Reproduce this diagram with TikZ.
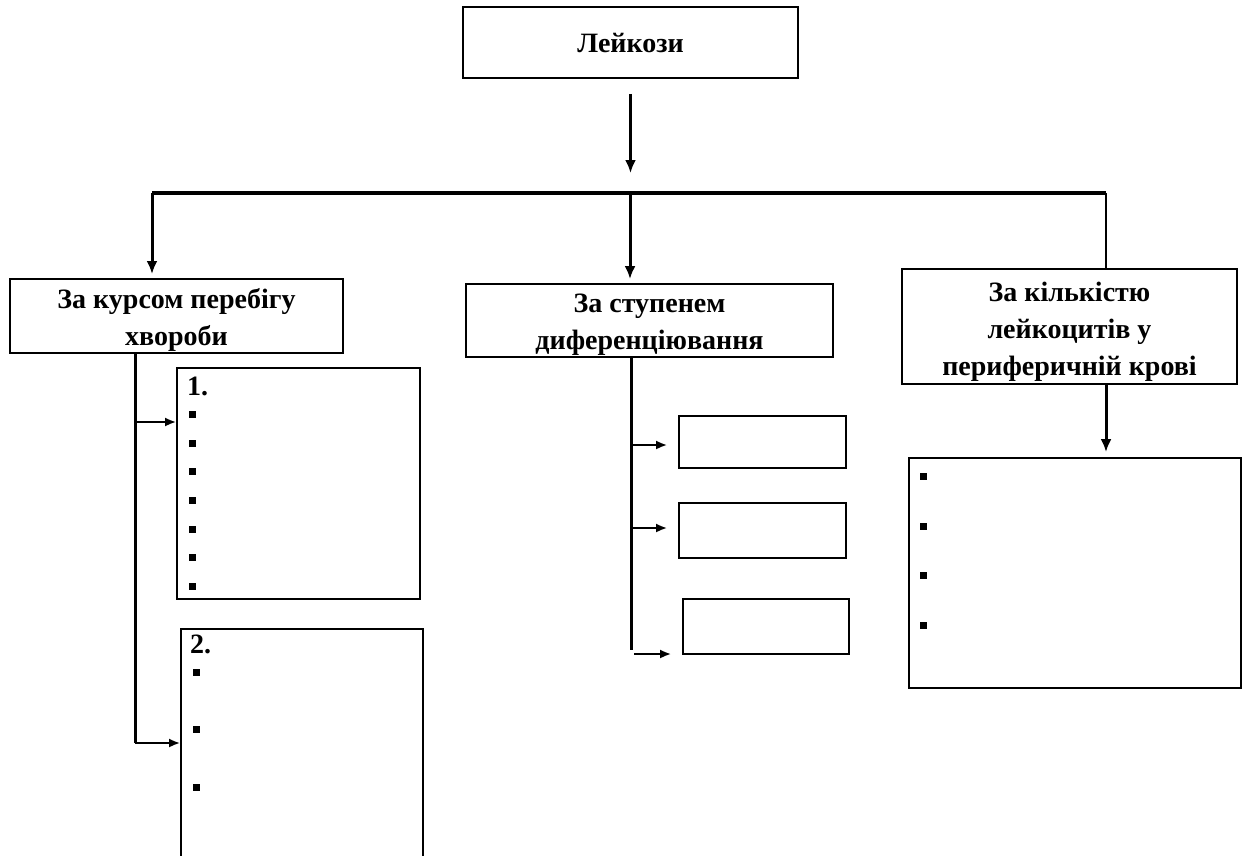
\documentclass[tikz,border=0pt]{standalone}
\usepackage{fontspec}
\setmainfont{Liberation Serif}
\usetikzlibrary{arrows.meta,positioning,calc}
\definecolor{ink}{HTML}{000000}
\newcommand{\boxstrut}{\rule{0pt}{27pt}}

\begin{document}
\begin{tikzpicture}[
  x=1pt, y=-1pt, color=ink,
  font=\fontsize{28}{37}\selectfont\bfseries,
  box/.style={draw, line width=1.8pt, align=center, inner sep=0pt},
  trunk/.style={line width=4pt},
  drop/.style={-{Latex[length=13pt,width=11pt]}, line width=3pt},
  feed/.style={-{Latex[length=11pt,width=9pt]}, line width=2pt},
  spine/.style={line width=3pt},
  sq/.style={fill, minimum size=7pt, inner sep=0pt},
  num/.style={anchor=base west, inner sep=0pt},
]
\useasboundingbox (0,0) rectangle (1248,855);

% root and groups
\node[box, minimum width=335pt, minimum height=71pt] (leuk) at (630.5,42.5) {Лейкози};
\node[box, minimum width=333pt, minimum height=74pt] (course) at (176.5,316) {\boxstrut За курсом перебігу\\хвороби};
\node[box, minimum width=367pt, minimum height=73pt] (diff) at (649.5,320.5) {\boxstrut За ступенем\\диференціювання};
\node[box, minimum width=335pt, minimum height=115pt] (count) at (1069.5,326.5) {\rule{0pt}{30pt}За кількістю\\лейкоцитів у\\периферичній крові};

% lists
\node[box, minimum width=243pt, minimum height=231pt] (list1) at (298.5,483.5) {};
\node[box, minimum width=242pt, minimum height=241pt] (list2) at (302,749.5) {};
\node[box, minimum width=167pt, minimum height=52pt] (d1) at (762.5,442) {};
\node[box, minimum width=167pt, minimum height=55pt] (d2) at (762.5,530.5) {};
\node[box, minimum width=166pt, minimum height=55pt] (d3) at (766,626.5) {};
\node[box, minimum width=332pt, minimum height=230pt] (cntlist) at (1075,573) {};

% numbers and bullets
\node[num] (n1) at (187,395) {1.};
\node[num] (n2) at (190,653) {2.};
\foreach \i in {0,...,6}
  \node[sq] (b1-\i) at (192,{414.3+28.7*\i}) {};
\foreach \i in {0,...,2}
  \node[sq] (b2-\i) at (196,{672.3+57.5*\i}) {};
\foreach \i in {0,...,3}
  \node[sq] (b3-\i) at (923,{476.7+49.5*\i}) {};

% bar
\coordinate (barL) at (152,193);
\coordinate (barM) at (630,193);
\coordinate (barR) at (1106,193);
\draw[trunk] (barL) -- (barR);
\draw[drop, shorten <=15pt, shorten >=20pt] (leuk.south) -- (leuk.south |- barM);
\draw[drop, shorten >=4pt] (barL) -- (barL |- course.north);
\draw[drop, shorten >=4pt] (barM) -- (barM |- diff.north);
\draw[line width=2.4pt] (barR) -- (barR |- count.north);
\draw[drop, shorten >=5pt] (barR |- count.south) -- (barR |- cntlist.north);

% left branch
\coordinate (spL) at (135,353);
\coordinate (f1) at (135,422);
\coordinate (f2) at (135,743);
\draw[spine] (spL) -- (f2);
\draw[feed] (f1) -- (f1 -| list1.west);
\draw[feed] (f2) -- (f2 -| list2.west);

% middle branch
\coordinate (spM) at (631,357);
\coordinate (g1) at (631,445);
\coordinate (g2) at (631,528);
\coordinate (g3) at (634,654);
\draw[spine] (spM) -- (631,650);
\draw[feed, shorten >=11pt] (g1) -- (g1 -| d1.west);
\draw[feed, shorten >=11pt] (g2) -- (g2 -| d2.west);
\draw[feed, shorten >=11pt] (g3) -- (g3 -| d3.west);
\end{tikzpicture}
\end{document}
